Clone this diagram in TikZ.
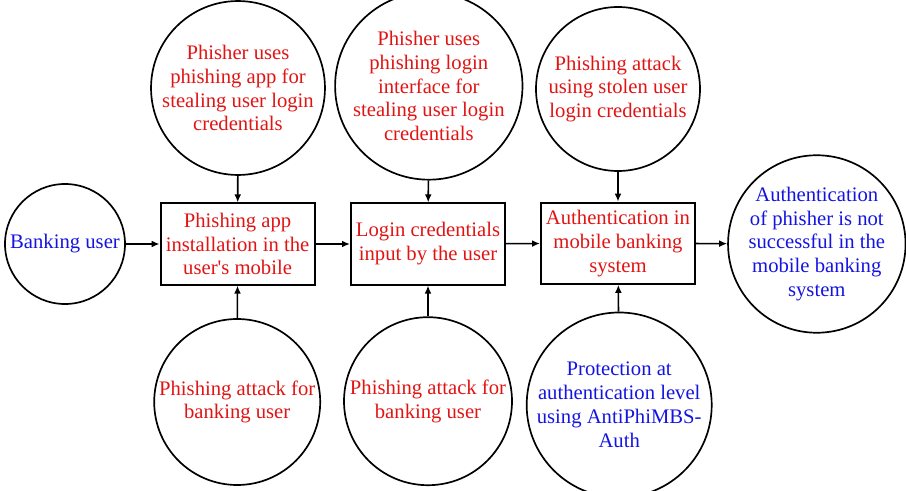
\documentclass[tikz,border=0pt]{standalone}
\usepackage{fontspec}
\setmainfont{Liberation Serif}
\usetikzlibrary{arrows.meta,positioning}
\definecolor{txtred}{RGB}{225,20,20}
\definecolor{txtblue}{RGB}{20,20,225}
\tikzset{
  >={Latex[length=2mm,width=1.7mm]},
  circ/.style={draw,circle,line width=1.2pt,align=center,inner sep=0pt,font=\fontsize{14.7}{17}\selectfont},
  box/.style={draw,rectangle,line width=1.4pt,align=center,inner sep=0pt,minimum width=3.85cm,minimum height=2.03cm,text=txtred,font=\fontsize{14.7}{17}\selectfont},
  flow/.style={->,line width=1.1pt}
}
\begin{document}
\begin{tikzpicture}
\useasboundingbox (0,0) rectangle (22.65,-12.275);
\node[circ,minimum size=3.0cm,text=txtblue](bank)at(1.625,-6.1){Banking user};
\node[box](inst)at(5.94,-6.1){Phishing app\\installation in the\\user\textquotesingle s mobile};
\node[box](cred)at(10.7,-6.1){Login credentials\\input by the user};
\node[box](auth)at(15.45,-6.08){Authentication in\\mobile banking\\system};
\node[circ,minimum size=4.3cm,text=txtblue](res)at(20.42,-6.1){Authentication\\of phisher is not\\successful in the\\mobile banking\\system};
% top row
\node[circ,minimum size=4.1cm,text=txtred](app)at(5.95,-2.2){Phisher uses\\phishing app for\\stealing user login\\credentials};
\node[circ,minimum size=4.3cm,text=txtred](iface)at(10.72,-2.15){Phisher uses\\phishing login\\interface for\\stealing user login\\credentials};
\node[circ,minimum size=4.1cm,text=txtred](stolen)at(15.45,-2.225){Phishing attack\\using stolen user\\login credentials};
% bottom row
\node[circ,minimum size=4.15cm,text=txtred](atk1)at(5.93,-10.05){Phishing attack for\\banking user};
\node[circ,minimum size=4.2cm,text=txtred](atk2)at(10.7,-10.03){Phishing attack for\\banking user};
\node[circ,minimum size=4.3cm,text=txtblue](prot)at(15.48,-10.125){Protection at\\authentication level\\using AntiPhiMBS-\\Auth};
\draw[flow](bank)--(inst);
\draw[flow](inst)--(cred);
\draw[flow](cred)--(auth);
\draw[flow](auth)--(res);
\draw[flow](app)--(inst);
\draw[flow](iface)--(cred);
\draw[flow](stolen)--(auth);
\draw[flow](atk1)--(inst);
\draw[flow](atk2)--(cred);
\draw[flow](prot)--(auth);
\end{tikzpicture}
\end{document}
